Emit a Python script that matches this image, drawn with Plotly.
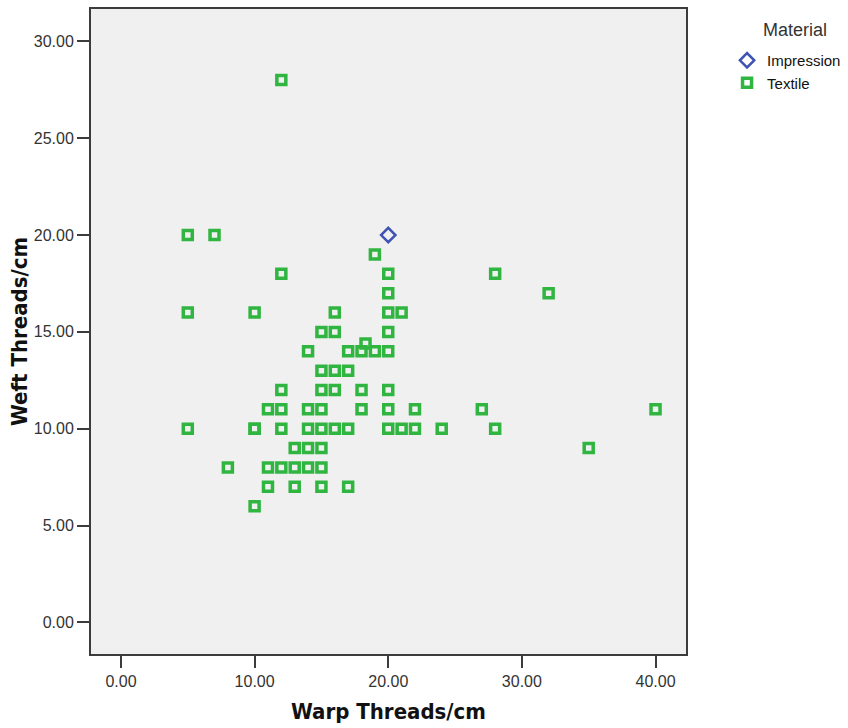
import plotly.graph_objects as go

# Data
textile_warp = [12,
                5, 7,
                19,
                12, 20, 28,
                20, 32,
                5, 10, 16, 20, 21,
                15, 16, 20,
                14, 17, 18, 18.3, 19, 20,
                15, 16, 17,
                12, 15, 16, 18, 20,
                11, 12, 14, 15, 18, 20, 22, 27, 40,
                5, 10, 10, 12, 14, 15, 16, 17, 20, 21, 22, 24, 28,
                13, 14, 15, 35,
                8, 11, 12, 13, 14, 15,
                11, 13, 15, 17,
                10]
textile_weft = [28,
                20, 20,
                19,
                18, 18, 18,
                17, 17,
                16, 16, 16, 16, 16,
                15, 15, 15,
                14, 14, 14, 14.4, 14, 14,
                13, 13, 13,
                12, 12, 12, 12, 12,
                11, 11, 11, 11, 11, 11, 11, 11, 11,
                10, 10, 10, 10, 10, 10, 10, 10, 10, 10, 10, 10, 10,
                9, 9, 9, 9,
                8, 8, 8, 8, 8, 8,
                7, 7, 7, 7,
                6]
impression_warp = [20]
impression_weft = [20]

x_ticks = [0, 10, 20, 30, 40]
y_ticks = [0, 5, 10, 15, 20, 25, 30]

GREEN = "#2fb540"
BLUE = "#3f53b3"
FONT = "Liberation Sans, Arial, sans-serif"
TITLE_FONT = "DejaVu Sans Condensed, Liberation Sans Narrow, Arial Narrow, sans-serif"

fig = go.Figure()
fig.add_trace(go.Scatter(
    x=impression_warp, y=impression_weft, mode="markers", name="Impression",
    marker=dict(symbol="diamond-open", size=11, color=BLUE, line=dict(width=2.5, color=BLUE)),
    cliponaxis=False,
))
fig.add_trace(go.Scatter(
    x=textile_warp, y=textile_weft, mode="markers", name="Textile",
    marker=dict(symbol="square-open", size=9, color=GREEN, line=dict(width=3.5, color=GREEN)),
    cliponaxis=False,
))

axis_common = dict(
    showgrid=False, zeroline=False, showline=True, mirror=True,
    linecolor="#3c3c3c", linewidth=2,
    ticks="outside", ticklen=12, tickwidth=2, tickcolor="#3c3c3c",
    tickformat=".2f", tickfont=dict(family=FONT, size=16, color="#333333"),
)

fig.update_layout(
    width=848, height=728,
    margin=dict(l=91, r=162, t=9, b=74, autoexpand=False),
    paper_bgcolor="white",
    plot_bgcolor="#f0f0f0",
    xaxis=dict(range=[-2.243, 42.28], tickvals=x_ticks,
               title=dict(text="<b>Warp Threads/cm</b>", standoff=14,
                          font=dict(family=TITLE_FONT, size=22, color="#111111")),
               **axis_common),
    yaxis=dict(range=[-1.63, 31.67], tickvals=y_ticks,
               title=dict(text="<b>Weft Threads/cm</b>", standoff=0,
                          font=dict(family=TITLE_FONT, size=22, color="#111111")),
               **axis_common),
    legend=dict(
        x=1.069, y=0.9457, xanchor="left", yanchor="top",
        font=dict(family=FONT, size=15, color="#111111"),
        itemwidth=30, tracegroupgap=0, bgcolor="rgba(0,0,0,0)",
    ),
    annotations=[dict(
        text="Material", xref="paper", yref="paper", x=1.183, y=0.9674,
        xanchor="center", yanchor="middle", showarrow=False,
        font=dict(family=FONT, size=18, color="#333333"),
    )],
    showlegend=True,
)

fig.write_html("out.html")
